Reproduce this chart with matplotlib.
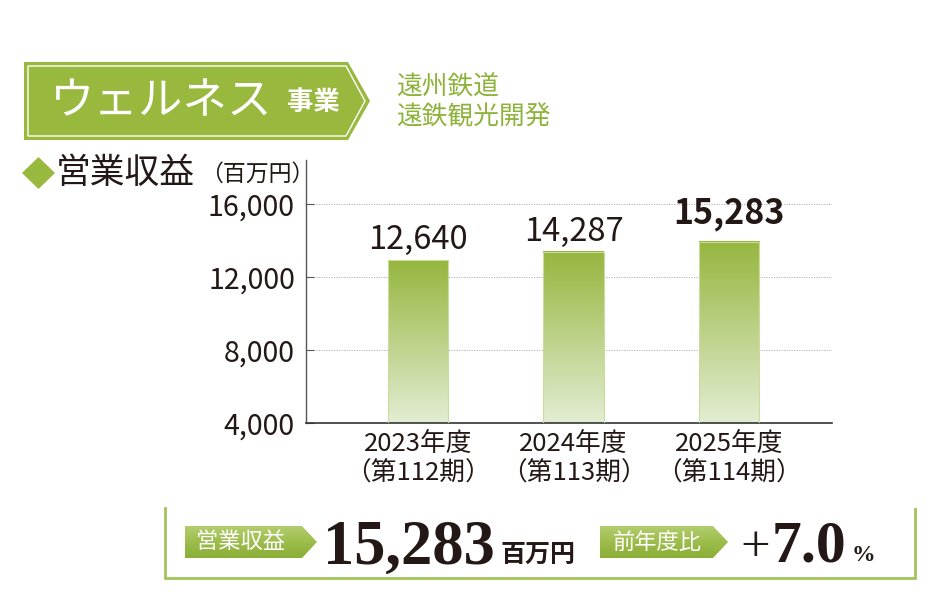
import numpy as np
import matplotlib
matplotlib.use("Agg")
import matplotlib.pyplot as plt
from matplotlib.colors import LinearSegmentedColormap
from matplotlib.patches import Polygon

plt.rcParams['font.family'] = ['Noto Sans CJK JP', 'DejaVu Sans']

# --- data ---
section_title = "ウェルネス"
section_suffix = "事業"
companies = ["遠州鉄道", "遠鉄観光開発"]
chart_title = "営業収益"
unit = "（百万円）"
years = ["2023年度\n（第112期）", "2024年度\n（第113期）", "2025年度\n（第114期）"]
bar_heights = [12930, 13370, 13920]   # bar heights as drawn in the source (not to scale)
value_labels = ["12,640", "14,287", "15,283"]
yticks = [4000, 8000, 12000, 16000]
summary_value = "15,283"
summary_unit = "百万円"
yoy_value = "7.0"

GREEN = "#98b83e"
DARK = "#231815"

fig = plt.figure(figsize=(9.5, 6), dpi=100)

# overlay in pixel coordinates for the decorative parts
ov = fig.add_axes([0, 0, 1, 1])
ov.set_xlim(0, 950)
ov.set_ylim(600, 0)
ov.axis("off")

# header banner
ov.add_patch(Polygon([(24, 62), (348, 62), (370, 101), (348, 140), (24, 140)],
                     closed=True, facecolor=GREEN, edgecolor="none"))
ov.add_patch(Polygon([(28, 66), (346, 66), (365, 101), (346, 136), (28, 136)],
                     closed=True, facecolor="none", edgecolor="white", lw=1.0))
ov.text(50, 101, section_title, color="white", fontsize=32, va="center", ha="left")
ov.text(287, 102, section_suffix, color="white", fontsize=19, fontweight="bold",
        va="center", ha="left")
ov.text(396, 88, companies[0], color="#8db33a", fontsize=18.5, va="center", ha="left")
ov.text(396, 117, companies[1], color="#8db33a", fontsize=18.5, va="center", ha="left")

# chart title
ov.add_patch(Polygon([(22, 173), (38.5, 157), (55, 173), (38.5, 189)],
                     closed=True, facecolor=GREEN, edgecolor="none"))
ov.text(56, 174, chart_title, color=DARK, fontsize=25, va="center", ha="left")
ov.text(200, 174, unit, color=DARK, fontsize=16.5, va="center", ha="left")

# summary box
box_c = "#a2c35a"
ov.plot([165, 165, 915, 915], [508, 578, 578, 509], color=box_c, lw=2,
        solid_joinstyle="miter")

grad_tag = np.linspace(0, 1, 64).reshape(-1, 1)
tag_cmap = LinearSegmentedColormap.from_list("tag", ["#b2cd6e", "#9dbd4c", "#8aae36"])


def tag(x0, x1, text, tx):
    poly = Polygon([(x0, 526), (x1, 526), (x1 + 15, 542), (x1, 558), (x0, 558)],
                   closed=True, facecolor="none", edgecolor="none")
    ov.add_patch(poly)
    im = ov.imshow(grad_tag, extent=[x0, x1 + 15, 558, 526], cmap=tag_cmap,
                   aspect="auto", origin="upper", zorder=1)
    im.set_clip_path(poly)
    ov.text(tx, 542, text, color="white", fontsize=16, va="center", ha="center", zorder=2)


tag(185, 302, chart_title, 241)
tag(600, 713, "前年度比", 657)
ov.set_xlim(0, 950)
ov.set_ylim(600, 0)

ov.text(323, 564, summary_value, color=DARK, fontsize=45, family="Liberation Serif",
        fontweight="bold", va="baseline", ha="left")
ov.text(501, 562, summary_unit, color=DARK, fontsize=18, fontweight="bold",
        va="baseline", ha="left")
ov.text(740, 561, "+", color=DARK, fontsize=38, family="Liberation Serif",
        va="baseline", ha="left")
ov.text(772, 562, yoy_value, color=DARK, fontsize=43, family="Liberation Serif",
        fontweight="bold", va="baseline", ha="left")
ov.text(852, 561, "%", color=DARK, fontsize=17, family="Liberation Serif",
        fontweight="bold", va="baseline", ha="left")

# bar chart
ax = fig.add_axes([306 / 950, 1 - 423 / 600, (832 - 306) / 950, (423 - 160) / 600])
ax.patch.set_alpha(0)

x = np.arange(len(years))
w = 0.386
bars = ax.bar(x, bar_heights, width=w, color="none", edgecolor="#c9dca0", lw=0.8, zorder=3)
cmap = LinearSegmentedColormap.from_list("g", ["#e3edd3", "#96b63e"])
grad = np.linspace(0, 1, 256).reshape(-1, 1)
for b in bars:
    x0 = b.get_x()
    ax.imshow(grad, extent=[x0, x0 + b.get_width(), yticks[0], b.get_height()],
              origin="lower", aspect="auto", cmap=cmap, zorder=2)

for i, (b, lab) in enumerate(zip(bars, value_labels)):
    last = i == len(bars) - 1
    ax.annotate(lab, xy=(b.get_x() + b.get_width() / 2, b.get_height()),
                xytext=(0, 8 if last else 3), textcoords="offset points",
                ha="center", va="bottom", fontsize=24.5 if last else 23.5, color=DARK,
                fontweight="bold" if last else "normal")

ax.set_xlim(-0.72, 2.662)
ax.set_ylim(4000, 18410)
ax.set_yticks(yticks)
ax.set_yticklabels([f"{v:,}" for v in yticks])
ax.set_xticks(x)
ax.set_xticklabels(years, linespacing=1.15)
ax.tick_params(axis="y", direction="in", length=6, width=0.8, color="#555555",
               labelsize=20.5, labelcolor=DARK, pad=8)
ax.tick_params(axis="x", length=0, labelsize=18.5, labelcolor=DARK, pad=6)
ax.yaxis.grid(True, color="#aaaaaa", lw=0.6, ls=(0, (1.5, 1.5)))
ax.set_axisbelow(True)
for s in ("top", "right"):
    ax.spines[s].set_visible(False)
ax.spines["left"].set_color("#555555")
ax.spines["left"].set_linewidth(1.0)
ax.spines["bottom"].set_color("#333333")
ax.spines["bottom"].set_linewidth(1.2)

fig.savefig("out.png", dpi=100, facecolor="white")
